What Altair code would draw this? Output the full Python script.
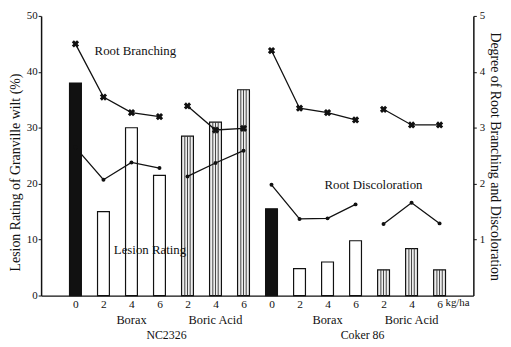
import altair as alt
import pandas as pd

# ---- data ----
cultivars = ["NC2326"] * 7 + ["Coker 86"] * 7
treatments = ["Control", "Borax", "Borax", "Borax", "Boric Acid", "Boric Acid", "Boric Acid"] * 2
doses = ["0", "2", "4", "6", "2", "4", "6"] * 2
positions = list(range(14))
lesion = [38, 15, 30, 21.5, 28.5, 31, 36.8, 15.5, 4.8, 6, 9.8, 4.6, 8.4, 4.6]
branching = [4.5, 3.55, 3.27, 3.2, 3.39, 2.96, 2.99, 4.38, 3.35, 3.27, 3.14, 3.33, 3.05, 3.05]
discoloration = [2.65, 2.07, 2.38, 2.28, 2.13, 2.37, 2.59, 1.98, 1.37, 1.38, 1.63, 1.28, 1.66, 1.29]

group_labels = ["Borax", "Boric Acid", "Borax", "Boric Acid"]
group_pos = [2, 5, 9, 12]
cultivar_labels = ["NC2326", "Coker 86"]
cultivar_pos = [3.25, 10.25]

annot_text = ["Root Branching", "Lesion Rating", "Root Discoloration"]
annot_x = [2.14, 2.66, 10.64]
annot_y = [43.8, 8.2, 19.8]

FONT = "Liberation Serif"
INK = "#111111"

df = pd.DataFrame(dict(pos=positions, cultivar=cultivars, treatment=treatments, dose=doses,
                       lesion=lesion, branching=branching, discoloration=discoloration))
df["seg"] = df["cultivar"] + "-" + df["treatment"].replace({"Control": "Borax"})

label_expr = "[" + ",".join(f"'{d}'" for d in doses) + "][datum.value]"

xscale = alt.Scale(domain=[-1.05, 14.03], nice=False, zero=False)


def x_axis():
    return alt.Axis(values=positions, labelExpr=label_expr, title=None, ticks=False, grid=False,
                    domainColor=INK, domainWidth=1.3, labelFont=FONT, labelFontSize=11.5,
                    labelColor=INK, labelPadding=3, labelFlush=False, labelOverlap=False,
                    labelBound=False)


def X(field="pos:Q"):
    return alt.X(field, scale=xscale, axis=x_axis())


yleft = alt.Scale(domain=[0, 50], nice=False)
left_axis = alt.Axis(values=[0, 10, 20, 30, 40, 50], format="d",
                     title="Lesion Rating of Granville wilt (%)",
                     titleX=-26, titleY=158, titleAngle=270, titleAlign="center",
                     titleBaseline="middle", titleFont=FONT, titleFontSize=14,
                     titleFontWeight="normal", titleColor=INK, labelFont=FONT,
                     labelFontSize=11, labelColor=INK, labelPadding=1, tickSize=3,
                     tickColor=INK, domainColor=INK, domainWidth=1.5, grid=False)


def YL(field="lesion:Q"):
    return alt.Y(field, scale=yleft, axis=left_axis)


base = alt.Chart(df)

bars = base.mark_bar(size=12, stroke=INK, strokeWidth=1.2).encode(
    x=X(), y=YL(),
    fill=alt.Fill("treatment:N",
                  scale=alt.Scale(domain=["Control", "Borax", "Boric Acid"],
                                  range=[INK, "white", "#eeeeee"]),
                  legend=None))

stripes = [
    base.transform_filter(alt.datum.treatment == "Boric Acid")
    .mark_bar(size=0.9, xOffset=k, color="#333333")
    .encode(x=X(), y=YL())
    for k in (-2.7, 0, 2.7)
]

ann_df = pd.DataFrame(dict(text=annot_text, x=annot_x, y=annot_y))
annots = alt.Chart(ann_df).mark_text(font=FONT, fontSize=13, color=INK, align="center",
                                     baseline="middle").encode(
    x=X("x:Q"), y=YL("y:Q"), text="text:N")

grp_df = pd.DataFrame(dict(text=group_labels, x=group_pos))
grp = alt.Chart(grp_df).mark_text(font=FONT, fontSize=12.5, color=INK, baseline="middle").encode(
    x=X("x:Q"), y=alt.value(307.7), text="text:N")

cul_df = pd.DataFrame(dict(text=cultivar_labels, x=cultivar_pos))
cul = alt.Chart(cul_df).mark_text(font=FONT, fontSize=12, color=INK, baseline="middle").encode(
    x=X("x:Q"), y=alt.value(323.3), text="text:N")

unit_df = pd.DataFrame(dict(text=["kg/ha"], x=[positions[-1]]))
unit = alt.Chart(unit_df).mark_text(font=FONT, fontSize=11, color=INK, align="left",
                                    baseline="middle", dx=6).encode(
    x=X("x:Q"), y=alt.value(291), text="text:N")

left = alt.layer(bars, *stripes, annots, grp, cul, unit)

yright = alt.Scale(domain=[0, 5], nice=False)
right_axis = alt.Axis(orient="right", values=[1, 2, 3, 4, 5], format="d",
                      title="Degree of Root Branching and Discoloration",
                      titleX=21, titleY=142, titleAngle=90, titleAlign="center",
                      titleBaseline="middle", titleFont=FONT, titleFontSize=14,
                      titleFontWeight="normal", titleColor=INK, labelFont=FONT,
                      labelFontSize=11, labelColor=INK, labelPadding=3, tickSize=3,
                      tickColor=INK, domainColor=INK, domainWidth=1.5, grid=False)


def YR(field):
    return alt.Y(field, scale=yright, axis=right_axis)


br_line = base.mark_line(color=INK, strokeWidth=1.3).encode(
    x=X(), y=YR("branching:Q"), detail="seg:N")
br_pts = base.mark_point(shape="cross", angle=45, filled=True, size=55, color=INK, opacity=1).encode(
    x=X(), y=YR("branching:Q"))
dc_line = base.mark_line(color=INK, strokeWidth=1.3).encode(
    x=X(), y=YR("discoloration:Q"), detail="seg:N")
dc_pts = base.mark_circle(size=16, color=INK, opacity=1).encode(
    x=X(), y=YR("discoloration:Q"))

right = alt.layer(br_line, br_pts, dc_line, dc_pts)

chart = alt.layer(left, right).resolve_scale(y="independent").properties(
    width=437.5, height=283,
    autosize=alt.AutoSizeParams(type="none"),
    padding={"left": 33.5, "top": 6, "right": 30, "bottom": 44},
    background="white",
).configure_view(stroke=None)

chart.save("out.html", embed_options={"renderer": "svg", "actions": False})
